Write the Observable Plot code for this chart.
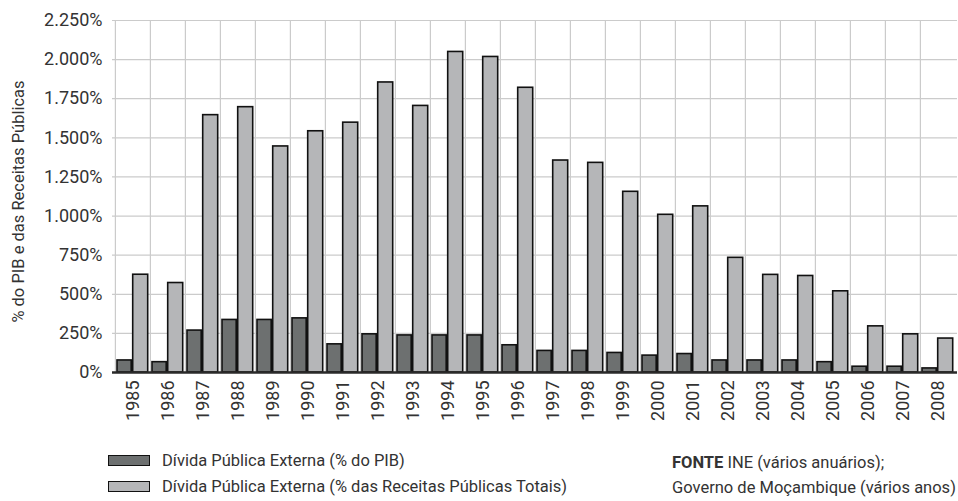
<!DOCTYPE html>
<html>
<head>
<meta charset="utf-8">
<script src="https://cdn.jsdelivr.net/npm/d3@7"></script>
<script src="https://cdn.jsdelivr.net/npm/@observablehq/plot@0.6"></script>
<style>
  html, body { margin: 0; padding: 0; background: #fff; }
  #wrap { position: relative; width: 958px; height: 501px; font-family: Roboto, "Noto Sans", sans-serif; color: #333; }
  #chart svg { display: block; }
  .leg { position: absolute; left: 108px; font-size: 16.5px; display: flex; align-items: center; white-space: nowrap; }
  .sw { width: 40px; height: 9px; border: 1.5px solid #111; margin-right: 12px; }
  #src { position: absolute; left: 672px; top: 450px; font-size: 16.5px; line-height: 25px; white-space: nowrap; }
</style>
</head>
<body>
<div id="wrap">
  <div id="chart"></div>
  <div id="legend"></div>
  <div id="src"><b>FONTE</b> INE (vários anuários);<br>Governo de Moçambique (vários anos)</div>
</div>
<script>
const years = ["1985","1986","1987","1988","1989","1990","1991","1992","1993","1994","1995","1996","1997","1998","1999","2000","2001","2002","2003","2004","2005","2006","2007","2008"];
const pibValues = [77,66,268,336,336,346,180,244,237,237,237,174,138,138,125,108,118,77,77,77,66,37,37,26];
const receitasValues = [625,572,1645,1696,1445,1542,1597,1854,1704,2049,2017,1820,1355,1340,1155,1008,1062,733,624,617,519,295,244,217];
const yTicks = [0,250,500,750,1000,1250,1500,1750,2000,2250];
const seriesNames = ["Dívida Pública Externa (% do PIB)", "Dívida Pública Externa (% das Receitas Públicas Totais)"];
const seriesColors = ["#6d7070", "#b5b6b8"];
const yLabel = "% do PIB e das Receitas Públicas";

const pibData = years.map((y, i) => ({year: y, value: pibValues[i]}));
const recData = years.map((y, i) => ({year: y, value: receitasValues[i]}));

const W = 958, H = 430, ML = 112, MR = 1, MT = 20, MB = 58;
const bw = (W - ML - MR) / years.length;
const loc = d3.formatLocale({decimal: ",", thousands: ".", grouping: [3], currency: ["", ""]});
const fmt = loc.format(",d");
const font = getComputedStyle(document.getElementById("wrap")).fontFamily;

const chart = Plot.plot({
  width: W, height: H,
  marginLeft: ML, marginRight: MR, marginTop: MT, marginBottom: MB,
  style: {fontFamily: font, fontSize: "18px", color: "#333", background: "white"},
  x: {domain: years, padding: 0, tickRotate: -90, tickSize: 0, tickPadding: 8, label: null},
  y: {domain: [0, 2250], ticks: yTicks, tickFormat: d => fmt(d) + "%", tickSize: 0, tickPadding: 10, label: null},
  marks: [
    Plot.ruleY(yTicks, {stroke: "#cbcbcb", strokeWidth: 1.2}),
    Plot.ruleX(years, {x: d => d, dx: -bw / 2, stroke: "#cbcbcb", strokeWidth: 1.2}),
    Plot.barY(pibData, {x: "year", y: "value", fill: seriesColors[0], stroke: "#111", strokeWidth: 1.6,
      insetLeft: 2, insetRight: bw - 16.4}),
    Plot.barY(recData, {x: "year", y: "value", fill: seriesColors[1], stroke: "#111", strokeWidth: 1.6,
      insetLeft: 17.7, insetRight: 2.3}),
    Plot.ruleY([0], {stroke: "#2a2a2a", strokeWidth: 2.5}),
    Plot.text([yLabel], {frameAnchor: "left", textAnchor: "middle", rotate: -90, dx: -94, dy: 5, text: d => d, fill: "#333", fontSize: 16.5})
  ]
});
document.getElementById("chart").appendChild(chart);

const legend = document.getElementById("legend");
seriesNames.forEach((name, i) => {
  const row = document.createElement("div");
  row.className = "leg";
  row.style.top = (451 + i * 26) + "px";
  const sw = document.createElement("div");
  sw.className = "sw";
  sw.style.background = seriesColors[i];
  const t = document.createElement("span");
  t.textContent = name;
  row.appendChild(sw);
  row.appendChild(t);
  legend.appendChild(row);
});
</script>
</body>
</html>
